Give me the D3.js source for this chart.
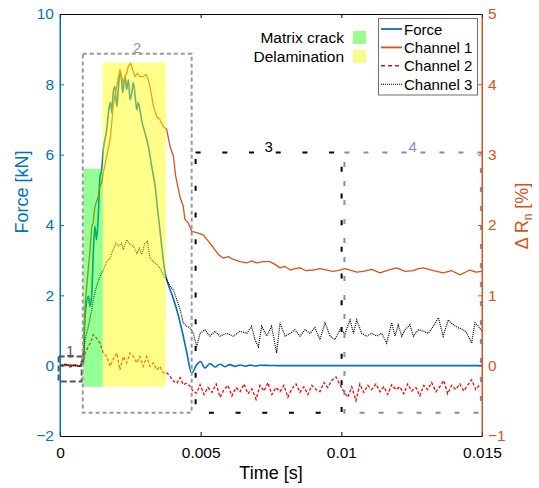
<!DOCTYPE html>
<html>
<head>
<meta charset="utf-8">
<script src="https://cdn.jsdelivr.net/npm/d3@7"></script>
<style>
  body { margin: 0; background: #fff; }
  svg { display: block; }
  text { font-family: "Liberation Sans", Arial, Helvetica, sans-serif; }
</style>
</head>
<body>
<svg id="chart" width="539" height="488"></svg>
<script>
// ---- data (time in ms, force in kN, resistance change in %) ----
const forceData = [
  [0,0],[0.36,0.01],[0.71,-0.01],[0.83,0.06],[0.89,1.40],[1.01,1.97],[1.07,1.69],[1.13,2.08],
  [1.18,3.11],[1.24,3.96],[1.30,3.58],[1.36,4.25],[1.42,5.35],[1.48,5.57],[1.54,6.14],[1.66,6.71],
  [1.75,7.37],[1.80,7.48],[1.84,7.19],[1.89,7.76],[1.95,7.94],[2.02,7.37],[2.07,7.85],[2.13,8.32],
  [2.19,8.13],[2.23,7.76],[2.31,8.23],[2.37,7.85],[2.43,8.13],[2.49,7.56],[2.55,7.76],[2.61,8.05],
  [2.67,7.66],[2.73,7.28],[2.78,7.48],[2.84,7.28],[2.90,6.99],[3.02,6.62],[3.14,6.24],[3.26,5.67],
  [3.38,5.10],[3.47,4.44],[3.59,3.58],[3.73,2.67],[3.84,2.33],[3.98,2.02],[4.15,1.59],[4.33,1.02],
  [4.50,0.40],[4.68,-0.21],[4.86,0.03],[5.00,0.12],[5.15,-0.07],[5.33,0.06],[5.51,-0.04],[5.69,0.04],
  [5.86,-0.03],[6.04,0.03],[6.22,-0.02],[6.40,0.02],[6.58,-0.015],[6.75,0.015],[6.93,-0.01],[7.11,0.01],
  [7.46,0.005],[7.82,0],[8.5,0],[9.5,0],[10.5,0],[11.5,0],[12.5,0],[13.5,0],[15.0,0]
];

const channel1 = [
  [0,0],[0.4,0.01],[0.75,-0.01],[0.83,0.23],[0.89,0.84],[0.97,1.22],[1.07,1.65],[1.13,1.98],
  [1.18,2.03],[1.24,2.26],[1.36,2.41],[1.42,2.55],[1.48,2.60],[1.54,2.74],[1.66,2.98],[1.78,3.21],
  [1.84,3.45],[1.89,3.69],[1.95,3.83],[2.04,4.02],[2.13,4.21],[2.19,4.11],[2.25,4.02],[2.31,4.11],
  [2.37,4.16],[2.43,4.26],[2.51,4.30],[2.58,4.21],[2.67,4.11],[2.75,4.16],[2.84,4.11],[2.96,4.11],
  [3.06,4.14],[3.14,4.07],[3.22,3.92],[3.32,3.69],[3.44,3.54],[3.55,3.50],[3.67,3.40],[3.79,3.36],
  [3.91,3.12],[4.03,2.98],[4.11,2.70],[4.27,2.39],[4.38,2.27],[4.44,2.08],[4.56,2.03],[4.68,1.91],
  [4.86,1.89],[5.09,1.86],[5.27,1.77],[5.45,1.68],[5.63,1.58],[5.80,1.53],[5.98,1.55],[6.16,1.51],
  [6.40,1.48],[6.64,1.46],[6.82,1.49],[6.99,1.46],[7.22,1.48],[7.46,1.48],[7.64,1.44],[7.82,1.39],
  [8.00,1.41],[8.18,1.36],[8.35,1.38],[8.53,1.39],[8.75,1.35],[9.00,1.36],[9.24,1.38],[9.48,1.36],
  [9.70,1.34],[9.95,1.36],[10.13,1.38],[10.31,1.36],[10.55,1.33],[10.78,1.34],[11.08,1.37],[11.37,1.32],
  [11.67,1.36],[11.97,1.39],[12.26,1.34],[12.56,1.35],[12.74,1.38],[12.91,1.39],[13.27,1.35],[13.62,1.32],
  [13.92,1.35],[14.22,1.29],[14.57,1.36],[14.78,1.33],[15.0,1.34]
];

const channel2 = [
  [0,0],[0.18,0.02],[0.36,-0.02],[0.53,0.01],[0.71,-0.01],[0.83,0.03],[0.89,0.18],[1.01,0.27],
  [1.13,0.37],[1.18,0.44],[1.30,0.39],[1.42,0.32],[1.54,0.18],[1.66,0.13],[1.78,-0.01],[1.89,0.09],
  [2.02,0.18],[2.13,-0.06],[2.25,0.13],[2.37,0.04],[2.49,0.18],[2.61,0.13],[2.73,0.04],[2.84,0.13],
  [2.96,-0.01],[3.08,0.13],[3.20,-0.01],[3.32,0.04],[3.44,-0.06],[3.55,-0.01],[3.67,-0.10],[3.79,-0.10],
  [3.91,-0.15],[4.03,-0.22],[4.15,-0.25],[4.27,-0.17],[4.38,-0.27],[4.50,-0.25],[4.62,-0.29],[4.74,-0.37],
  [4.86,-0.39],[4.98,-0.27],[5.12,-0.41],[5.26,-0.31],[5.40,-0.38],[5.55,-0.26],[5.69,-0.45],[5.83,-0.34],
  [5.97,-0.28],[6.11,-0.43],[6.26,-0.31],[6.40,-0.37],[6.54,-0.26],[6.68,-0.40],[6.82,-0.33],[6.97,-0.48],
  [7.11,-0.28],[7.25,-0.36],[7.39,-0.24],[7.53,-0.41],[7.68,-0.31],[7.82,-0.37],[7.96,-0.28],[8.10,-0.45],
  [8.24,-0.33],[8.39,-0.26],[8.53,-0.38],[8.67,-0.30],[8.81,-0.41],[8.95,-0.28],[9.10,-0.34],[9.24,-0.37],
  [9.38,-0.24],[9.52,-0.31],[9.66,-0.21],[9.81,-0.16],[9.95,-0.27],[10.09,-0.37],[10.23,-0.45],[10.37,-0.30],
  [10.52,-0.50],[10.66,-0.26],[10.80,-0.38],[10.94,-0.28],[11.08,-0.34],[11.23,-0.26],[11.37,-0.37],[11.51,-0.30],
  [11.65,-0.41],[11.79,-0.27],[11.94,-0.34],[12.08,-0.30],[12.22,-0.40],[12.36,-0.26],[12.50,-0.36],[12.65,-0.31],
  [12.79,-0.43],[12.93,-0.28],[13.07,-0.34],[13.21,-0.24],[13.36,-0.37],[13.50,-0.30],[13.64,-0.21],[13.78,-0.40],
  [13.92,-0.28],[14.07,-0.34],[14.21,-0.26],[14.35,-0.36],[14.49,-0.28],[14.63,-0.20],[14.78,-0.34],[14.92,-0.27]
];

const channel3 = [
  [0,0],[0.2,0.02],[0.4,-0.01],[0.53,0.01],[0.7,-0.01],[0.83,0.09],[0.89,0.37],[1.01,0.56],
  [1.13,0.80],[1.18,0.94],[1.30,1.13],[1.42,1.27],[1.54,1.36],[1.66,1.48],[1.78,1.53],[1.89,1.65],
  [1.99,1.74],[2.07,1.70],[2.19,1.74],[2.25,1.65],[2.37,1.79],[2.49,1.72],[2.61,1.70],[2.73,1.60],
  [2.82,1.67],[2.90,1.58],[3.02,1.74],[3.10,1.77],[3.20,1.53],[3.32,1.48],[3.44,1.44],[3.55,1.39],
  [3.67,1.29],[3.79,1.22],[3.91,1.13],[4.03,1.08],[4.15,0.94],[4.27,0.80],[4.38,0.61],[4.50,0.56],
  [4.62,0.54],[4.74,0.46],[4.86,0.27],[4.98,0.46],[5.15,0.51],[5.33,0.42],[5.51,0.49],[5.69,0.42],
  [5.93,0.46],[6.16,0.42],[6.40,0.49],[6.64,0.46],[6.81,0.56],[6.93,0.37],[7.05,0.27],[7.17,0.56],
  [7.35,0.42],[7.52,0.56],[7.70,0.18],[7.82,0.61],[8.00,0.42],[8.18,0.46],[8.35,0.51],[8.53,0.42],
  [8.71,0.51],[8.89,0.46],[9.06,0.54],[9.24,0.37],[9.42,0.61],[9.60,0.42],[9.77,0.37],[9.95,0.51],
  [10.13,0.46],[10.31,0.65],[10.43,0.46],[10.55,0.65],[10.72,0.46],[10.90,0.42],[11.08,0.46],[11.26,0.42],
  [11.43,0.46],[11.61,0.32],[11.79,0.61],[11.91,0.42],[12.02,0.58],[12.15,0.42],[12.26,0.51],[12.44,0.58],
  [12.56,0.42],[12.74,0.51],[12.91,0.49],[13.09,0.46],[13.27,0.56],[13.45,0.68],[13.62,0.42],[13.80,0.65],
  [13.98,0.58],[14.16,0.54],[14.34,0.51],[14.46,0.46],[14.63,0.32],[14.75,0.61],[14.87,0.56],[15.0,0.49]
];

// damage phases, [start ms, end ms, bottom kN, top kN]
const matrixCrackSpan = [0.83, 1.52, -0.6, 5.6];
const delaminationSpan = [1.52, 3.76, -0.6, 8.62];

// numbered stage windows, [start ms, end ms, bottom kN, top kN]
const stageLabels = ["1", "2", "3", "4"];
const stageWindows = [
  [-0.05, 0.77, -0.45, 0.26],
  [0.81, 4.68, -1.34, 8.87],
  [4.82, 10.01, -1.34, 6.06],
  [10.11, 14.96, -1.34, 6.06]
];

const forceTicks = [-2, 0, 2, 4, 6, 8, 10];
const resistanceTicks = [-1, 0, 1, 2, 3, 4, 5];
const timeTicks = [0, 5, 10, 15];
const timeTickLabels = ["0", "0.005", "0.01", "0.015"];
const seriesNames = ["Force", "Channel 1", "Channel 2", "Channel 3"];
const phaseNames = ["Matrix crack", "Delamination"];

// ---- layout ----
const svg = d3.select("#chart");
const mLeft = 60, mRight = 482, mTop = 14, mBottom = 436;
const blue = "#0072BD", orange = "#D95319";

const x = d3.scaleLinear().domain([0, 15]).range([mLeft, mRight]);
const yF = d3.scaleLinear().domain([-2, 10]).range([mBottom, mTop]);
const yR = d3.scaleLinear().domain([-1, 5]).range([mBottom, mTop]);

const plot = svg.append("g");

// ---- series ----
const lineF = d3.line().x(d => x(d[0])).y(d => yF(d[1])).curve(d3.curveMonotoneX);
const lineR = d3.line().x(d => x(d[0])).y(d => yR(d[1]));

plot.append("path").datum(forceData).attr("d", lineF)
  .attr("fill", "none").attr("stroke", blue).attr("stroke-width", 1.6);
plot.append("path").datum(channel1).attr("d", lineR)
  .attr("fill", "none").attr("stroke", orange).attr("stroke-width", 1.3)
  .attr("stroke-linejoin", "round");
plot.append("path").datum(channel2).attr("d", lineR)
  .attr("fill", "none").attr("stroke", "#ff0000").attr("stroke-width", 1.3)
  .attr("stroke-dasharray", "3,2");
plot.append("path").datum(channel3).attr("d", lineR)
  .attr("fill", "none").attr("stroke", "#000").attr("stroke-width", 1.2)
  .attr("stroke-dasharray", "1,1");

// ---- translucent phase shading over the curves ----
function spanRect(span, fill, op) {
  plot.append("rect")
    .attr("x", x(span[0])).attr("width", x(span[1]) - x(span[0]))
    .attr("y", yF(span[3])).attr("height", yF(span[2]) - yF(span[3]))
    .attr("fill", fill).attr("fill-opacity", op);
}
spanRect(matrixCrackSpan, "rgb(0,255,0)", 0.42);
spanRect(delaminationSpan, "rgb(255,255,0)", 0.46);

// ---- stage windows ----
const stageStyles = [
  { stroke: "#555555", dash: "6,3", w: 2 },
  { stroke: "#9a9a9a", dash: "4,3", w: 2 },
  { stroke: "#000000", dash: "5,21.7", w: 2 },
  { stroke: "#8a8aaa", dash: "5,14", w: 2 }
];
stageWindows.forEach((w, i) => {
  const s = stageStyles[i];
  plot.append("rect")
    .attr("x", x(w[0])).attr("width", x(w[1]) - x(w[0]))
    .attr("y", yF(w[3])).attr("height", yF(w[2]) - yF(w[3]))
    .attr("fill", "none").attr("stroke", s.stroke)
    .attr("stroke-width", s.w).attr("stroke-dasharray", s.dash);
  plot.append("text")
    .attr("x", (x(w[0]) + x(w[1])) / 2)
    .attr("y", yF(w[3]) - 1)
    .attr("text-anchor", "middle")
    .attr("font-size", 15)
    .attr("fill", s.stroke)
    .text(stageLabels[i]);
});

// ---- axes ----
const tickFont = 15.5;
const axL = svg.append("g").attr("transform", `translate(${mLeft},0)`)
  .call(d3.axisLeft(yF).tickValues(forceTicks).tickSize(-4).tickSizeOuter(0).tickPadding(6)
    .tickFormat(d3.format("d")));
axL.selectAll("path,line").attr("stroke", blue);
axL.selectAll("text").attr("fill", blue).attr("font-size", tickFont);

const axR = svg.append("g").attr("transform", `translate(${mRight},0)`)
  .call(d3.axisRight(yR).tickValues(resistanceTicks).tickSize(-4).tickSizeOuter(0).tickPadding(6)
    .tickFormat(d3.format("d")));
axR.selectAll("path,line").attr("stroke", orange);
axR.selectAll("text").attr("fill", orange).attr("font-size", tickFont);

const axB = svg.append("g").attr("transform", `translate(0,${mBottom})`)
  .call(d3.axisBottom(x).tickValues(timeTicks).tickSize(-4).tickSizeOuter(0).tickPadding(11)
    .tickFormat((d, i) => timeTickLabels[i]));
axB.selectAll("path,line").attr("stroke", "#000");
axB.selectAll("text").attr("fill", "#000").attr("font-size", tickFont);

const axT = svg.append("g").attr("transform", `translate(0,${mTop})`)
  .call(d3.axisTop(x).tickValues(timeTicks).tickSize(-4).tickSizeOuter(0).tickFormat(""));
axT.selectAll("path,line").attr("stroke", "#000");

// coloured side spines over the black top/bottom lines
svg.append("line").attr("x1", mLeft).attr("x2", mLeft).attr("y1", mTop).attr("y2", mBottom)
  .attr("stroke", blue);
svg.append("line").attr("x1", mRight).attr("x2", mRight).attr("y1", mTop).attr("y2", mBottom)
  .attr("stroke", orange);

// ---- axis titles ----
svg.append("text").attr("transform", "translate(271,479)")
  .attr("text-anchor", "middle").attr("font-size", 18).text("Time [s]");
svg.append("text").attr("transform", "translate(28,192) rotate(-90)")
  .attr("text-anchor", "middle").attr("font-size", 18).attr("fill", blue).text("Force [kN]");
const rt = svg.append("text").attr("transform", "translate(528,216) rotate(-90)")
  .attr("text-anchor", "middle").attr("font-size", 18).attr("fill", orange);
rt.append("tspan").text("\u0394 R");
rt.append("tspan").attr("font-size", 12).attr("dy", 4).text("n");
rt.append("tspan").attr("dy", -4).text(" [%]");

// ---- phase legend ----
const phaseFills = ["#99ff8c", "#f8fc8c"];
phaseNames.forEach((name, i) => {
  svg.append("rect").attr("x", 353).attr("y", 31 + i * 19).attr("width", 13).attr("height", 13)
    .attr("fill", phaseFills[i]);
  svg.append("text").attr("x", 344).attr("y", 43 + i * 19).attr("text-anchor", "end")
    .attr("font-size", 15.5).attr("fill", "#000").text(name);
});

// ---- series legend ----
const lg = svg.append("g");
lg.append("rect").attr("x", 378.5).attr("y", 18.5).attr("width", 99).attr("height", 76.5)
  .attr("fill", "#fff").attr("stroke", "#6f6f6f").attr("stroke-width", 1);
const legendStyles = [
  { c: blue, d: null, w: 1.8 },
  { c: orange, d: null, w: 1.8 },
  { c: "#ff0000", d: "4,3", w: 1.4 },
  { c: "#000", d: "1,1", w: 1.1 }
];
seriesNames.forEach((name, i) => {
  const yy = 29 + i * 18.4;
  const s = legendStyles[i];
  const ln = lg.append("line").attr("x1", 381).attr("x2", 402).attr("y1", yy).attr("y2", yy)
    .attr("stroke", s.c).attr("stroke-width", s.w);
  if (s.d) ln.attr("stroke-dasharray", s.d);
  lg.append("text").attr("x", 404).attr("y", yy + 5.5).attr("font-size", 15)
    .attr("fill", "#000").text(name);
});
</script>
</body>
</html>
